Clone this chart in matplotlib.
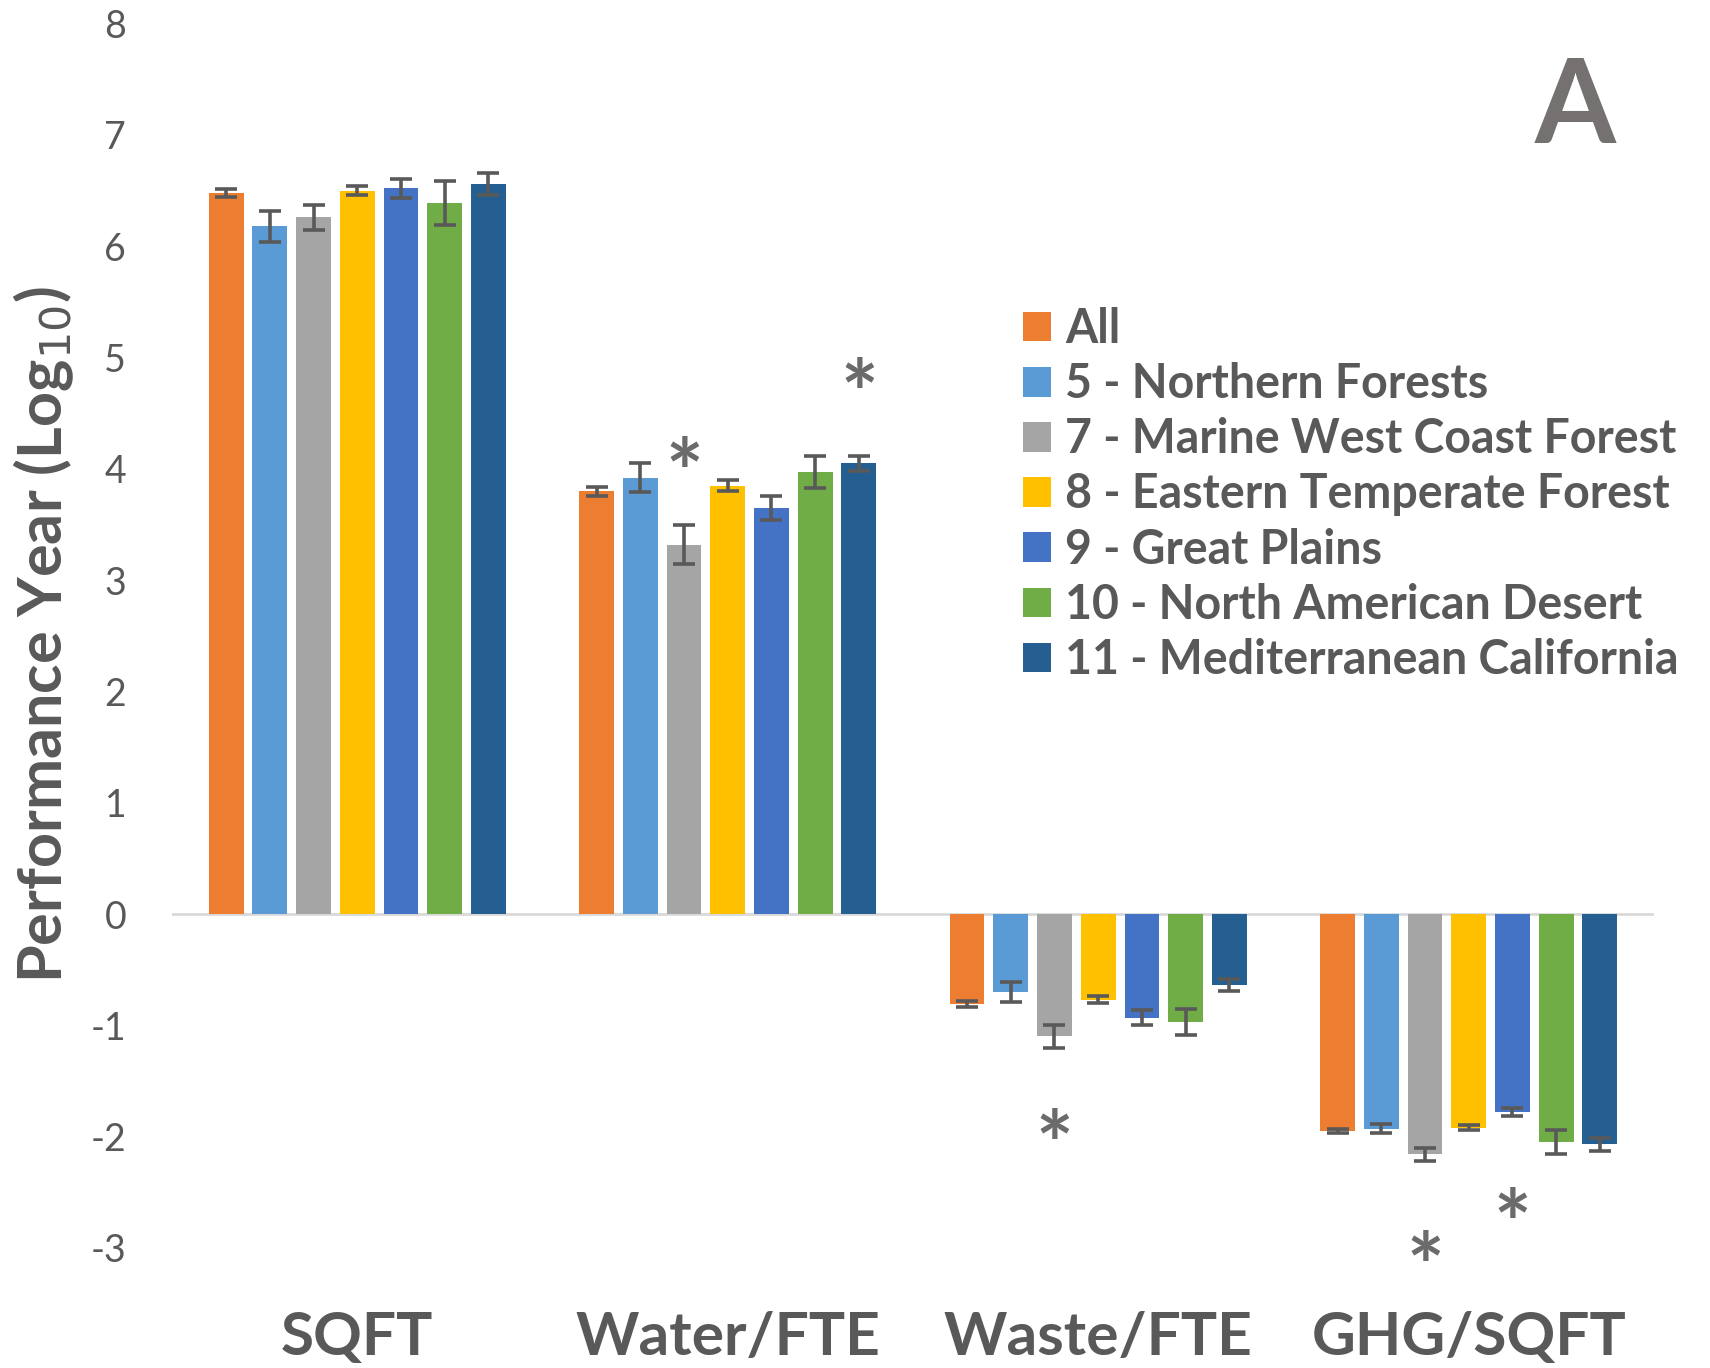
import matplotlib
matplotlib.use("Agg")
import matplotlib.pyplot as plt
import matplotlib.transforms as mtransforms
import numpy as np

categories = ["SQFT", "Water/FTE", "Waste/FTE", "GHG/SQFT"]
series = ["All", "5 - Northern Forests", "7 - Marine West Coast Forest",
          "8 - Eastern Temperate Forest", "9 - Great Plains",
          "10 - North American Desert", "11 - Mediterranean California"]
colors = ["#ED7D31", "#5B9BD5", "#A5A5A5", "#FFC000", "#4472C4", "#70AD47", "#255E91"]

# values per series: [SQFT, Water/FTE, Waste/FTE, GHG/SQFT]
v_all = [6.48, 3.80, -0.81, -1.95]
v_5 = [6.18, 3.92, -0.70, -1.93]
v_7 = [6.26, 3.32, -1.10, -2.16]
v_8 = [6.50, 3.85, -0.77, -1.92]
v_9 = [6.52, 3.65, -0.93, -1.78]
v_10 = [6.39, 3.97, -0.97, -2.05]
v_11 = [6.56, 4.05, -0.635, -2.07]
values = [v_all, v_5, v_7, v_8, v_9, v_10, v_11]

e_all = [0.033, 0.04, 0.025, 0.02]
e_5 = [0.14, 0.13, 0.093, 0.04]
e_7 = [0.11, 0.175, 0.10, 0.057]
e_8 = [0.042, 0.048, 0.03, 0.02]
e_9 = [0.084, 0.11, 0.065, 0.037]
e_10 = [0.195, 0.145, 0.12, 0.11]
e_11 = [0.10, 0.067, 0.053, 0.058]
errors = [e_all, e_5, e_7, e_8, e_9, e_10, e_11]

# significance markers: (category index, series index, y value)
star_cat = [1, 1, 2, 3, 3]
star_series = [2, 6, 2, 2, 4]
star_y = [4.14, 4.85, -1.90, -2.99, -2.61]

yticks = [-3, -2, -1, 0, 1, 2, 3, 4, 5, 6, 7, 8]

TXT = "#595959"
plt.rcParams['font.family'] = ['Lato', 'DejaVu Sans']

fig = plt.figure(figsize=(17.1, 13.68), dpi=100)
ax = fig.add_axes([0.1006, 0.0878, 0.8666, 0.8949])

x = np.arange(len(categories))
period = 0.118
width = 0.094
for i, (vals, errs, c, name) in enumerate(zip(values, errors, colors, series)):
    off = (i - 3) * period
    ax.bar(x + off, vals, width=width, color=c, label=name, zorder=2)
    ax.errorbar(x + off, vals, yerr=errs, fmt="none", ecolor=TXT,
                elinewidth=2.6, capsize=8, capthick=2.6, zorder=3)

star_tr = mtransforms.offset_copy(ax.transData, fig=fig, x=0, y=-26, units="dots")
for ci, si, yv in zip(star_cat, star_series, star_y):
    ax.text(ci + (si - 3) * period, yv, "*", ha="center", va="center",
            fontsize=64, fontweight="bold", color="#6b6b6b", transform=star_tr)

ax.axhline(0, color="#D9D9D9", lw=2, zorder=1)
ax.set_xlim(-0.5, 3.5)
ax.set_ylim(-3, 8)
ax.set_yticks(yticks)
ax.set_yticklabels([str(t) for t in yticks], fontsize=27, color=TXT)
ax.tick_params(axis="y", length=0, pad=33)
ax.set_xticks([])
for s in ax.spines.values():
    s.set_visible(False)

trans = mtransforms.blended_transform_factory(ax.transData, fig.transFigure)
for xi, cat in zip(x, categories):
    ax.text(xi, 1 - 1338 / 1368, cat, transform=trans, ha="center", va="center",
            fontsize=43.5, fontweight="bold", color=TXT)

fig.text(44 / 1710, 1 - 635 / 1368, "Performance Year (Log$_{10}$)", rotation=90,
         ha="center", va="center", fontsize=44, fontweight="bold", color=TXT)

fig.text(1575 / 1710, 1 - 143 / 1368, "A", ha="center", va="baseline",
         fontsize=84, fontweight="bold", color="#767171")

leg = ax.legend(loc="upper left", bbox_to_anchor=(1023 / 1710, 1 - 307 / 1368),
                bbox_transform=fig.transFigure, frameon=False, fontsize=33.5,
                handlelength=0.6, handleheight=0.6, handletextpad=0.3,
                labelspacing=0.24, borderpad=0, borderaxespad=0)
for t in leg.get_texts():
    t.set_color(TXT)
    t.set_fontweight("bold")

fig.savefig("out.png", dpi=100)
